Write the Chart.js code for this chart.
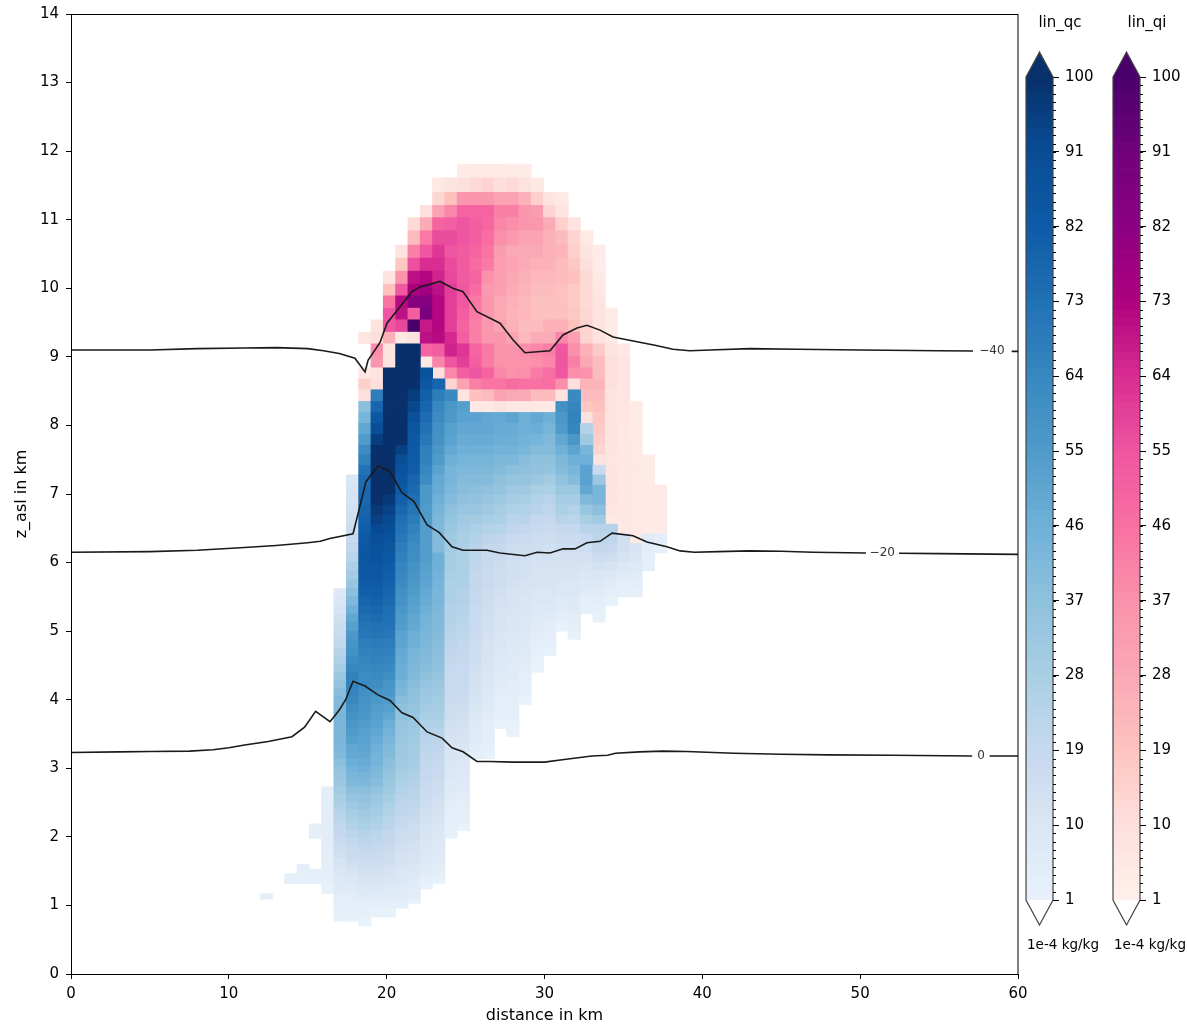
<!DOCTYPE html>
<html>
<head>
<meta charset="utf-8">
<title>lin_qc lin_qi</title>
<script src="https://cdn.jsdelivr.net/npm/chart.js@4"></script>
<style>
  html, body { margin: 0; padding: 0; background: #fff; width: 1187px; height: 1025px; overflow: hidden; }
  canvas { position: absolute; top: 0; }
</style>
</head>
<body>
<canvas id="main" width="1030" height="1025" style="left:0"></canvas>
<canvas id="cbQc" width="87" height="1025" style="left:1020px"></canvas>
<canvas id="cbQi" width="80" height="1025" style="left:1107px"></canvas>
<script>
// column centres in km
const colX = [12.37,13.15,13.93,14.71,15.49,16.27,17.05,17.84,18.62,19.40,20.18,20.96,21.74,22.52,23.30,24.08,24.86,25.65,26.43,27.21,27.99,28.77,29.55,30.33,31.11,31.89,32.67,33.46,34.24,35.02,35.80,36.58,37.36];

// model level edges in km, top to bottom
const zEdges = [11.81,11.61,11.40,11.21,11.03,10.84,10.63,10.44,10.25,10.06,9.89,9.71,9.54,9.36,9.19,9.00,8.84,8.68,8.52,8.35,8.19,8.03,7.87,7.71,7.57,7.42,7.28,7.13,6.99,6.84,6.69,6.56,6.42,6.28,6.14,6.01,5.88,5.75,5.62,5.50,5.37,5.25,5.13,5.00,4.88,4.75,4.64,4.51,4.40,4.28,4.16,4.05,3.93,3.81,3.70,3.58,3.46,3.35,3.24,3.14,3.03,2.94,2.84,2.73,2.62,2.51,2.40,2.29,2.19,2.09,1.98,1.88,1.79,1.69,1.60,1.53,1.46,1.39,1.32,1.24,1.17,1.09,1.03,0.96,0.89,0.83,0.77,0.70];

// lin_qc: [column, first level, values going down]
const qcColumns = [
  [0,80,3],
  [2,76,3,3],
  [3,74,3,3,3,3],
  [4,68,3,3],
  [4,75,3,3,3],
  [5,63,4,4,4,5,5,5,5,5,5,4,4,4,3,3,3,2,2],
  [6,38,8,10,12,14,16,18,20,23,26,29,33,36,39,41,42,43,43,43,43,42,41,38,36,34,33,30,28,26,24,22,20,19,17,15,14,12,11,10,9,8,7,6,5,4,3,3,2,2],
  [7,26,10,11,12,13,14,16,18,20,23,27,30,34,38,42,46,50,53,56,58,60,62,64,66,66,65,63,61,59,57,55,53,50,49,47,45,43,41,38,35,32,29,27,25,22,20,18,17,15,13,12,10,9,8,6,5,4,3,3,2,2],
  [8,19,38,44,50,55,62,66,72,75,76,77,78,79,81,83,85,85,84,83,82,80,78,76,74,72,70,68,66,65,63,62,62,60,59,58,57,55,53,52,51,50,48,46,44,42,38,36,34,31,29,27,24,22,20,18,16,15,13,12,11,9,8,7,5,4,3,3,2,1],
  [9,18,68,78,85,90,96,100,100,100,100,100,100,97,95,92,90,88,87,85,84,82,81,79,77,75,73,71,69,67,66,64,63,61,58,56,54,53,52,50,48,46,45,44,42,41,39,36,33,31,29,27,25,22,21,19,18,16,15,13,12,11,9,8,6,5,3,2,2],
  [10,16,100,100,100,100,100,100,100,100,100,100,100,100,97,94,92,90,88,86,84,82,81,79,78,76,74,73,72,70,68,66,65,63,61,58,57,55,53,50,47,45,43,41,40,38,37,35,33,31,29,27,25,23,22,20,19,17,16,15,13,12,11,10,8,7,6,5,4,2,2],
  [11,14,100,100,100,100,100,100,100,100,100,95,90,87,85,83,80,77,74,72,70,68,67,65,64,62,60,59,57,55,54,52,51,49,48,47,47,44,42,39,37,36,35,34,33,32,32,31,30,28,27,25,23,22,21,19,18,16,15,14,13,12,11,10,9,9,8,7,6,5,4],
  [12,14,100,100,100,100,96,93,89,86,84,83,82,81,78,76,74,71,68,66,64,62,61,59,58,56,55,53,52,50,49,47,46,44,43,42,41,39,37,36,35,34,33,32,31,30,30,29,28,26,25,23,22,21,20,18,16,15,14,13,12,11,10,9,8,7,6,5,4,2],
  [13,16,88,85,80,78,75,73,70,67,66,64,62,56,56,55,55,54,54,54,54,53,52,51,49,48,46,45,44,43,42,41,40,39,37,35,33,32,30,28,26,24,23,22,21,20,19,19,18,17,16,15,14,13,12,11,10,10,9,8,7,6,5,3,2],
  [14,17,78,68,64,62,60,59,57,55,52,49,48,46,44,42,41,40,40,46,46,45,44,43,43,42,41,41,40,39,38,37,36,35,33,31,30,29,28,26,24,22,21,20,19,18,17,16,15,14,13,12,11,10,9,8,8,7,6,5,4,3,2],
  [15,18,63,57,56,53,52,49,46,44,44,42,40,37,35,33,31,30,29,29,28,27,27,26,25,25,24,23,22,21,20,19,18,18,18,17,16,15,14,13,12,11,11,10,9,9,8,7,6,5,4,3,3,2],
  [16,19,53,52,50,48,46,44,42,40,39,37,34,31,29,28,27,27,27,27,26,25,25,24,23,22,21,20,19,19,18,18,18,17,16,15,14,13,12,11,10,10,9,8,8,7,6,5,4,3,3,1],
  [17,20,52,50,48,46,44,42,40,38,36,34,30,27,25,23,22,21,20,20,19,19,18,18,18,17,16,15,15,14,13,13,12,11,10,9,8,7,6,5,4],
  [18,20,50,50,48,46,44,42,40,37,34,31,28,25,22,20,18,18,17,17,16,15,15,14,14,13,12,12,11,11,10,9,8,8,7,6,5,4,4,3,2],
  [19,20,49,48,47,45,42,40,37,35,32,29,27,24,21,19,17,16,15,15,14,13,12,12,11,10,10,9,8,8,7,6,5,4,4,3,2],
  [20,20,51,48,47,45,42,38,35,31,29,26,23,21,18,16,15,14,14,13,12,12,11,10,10,9,8,8,7,6,6,5,5,4,3,3,2,1],
  [21,20,46,46,45,43,39,37,35,31,28,25,23,20,17,15,14,13,13,12,11,10,10,9,9,8,7,7,6,5,4,3,3,1],
  [22,20,49,47,44,40,37,36,33,28,25,23,20,18,16,15,13,12,12,11,10,9,8,7,6,5,4,3,2,1],
  [23,20,46,44,41,40,37,35,30,27,23,21,19,17,15,14,13,12,11,11,10,9,8,6,5,4,3,2],
  [24,19,60,57,55,50,46,42,40,36,33,29,27,23,19,17,15,13,12,11,10,9,7,6,4,2],
  [25,18,63,65,66,65,57,51,46,43,40,33,29,25,22,19,17,15,13,12,11,10,9,8,7,5,4,2],
  [26,21,25,31,43,46,52,52,50,41,34,28,23,18,15,13,11,9,8,6,4,3],
  [27,25,18,33,43,43,38,31,24,22,20,16,13,10,8,6,5,3,2],
  [28,31,24,21,19,15,12,9,6,4,2],
  [29,32,14,14,12,9,7,4,3],
  [30,33,11,10,8,6,5,3],
  [31,32,6,5,4,3],
  [32,32,4,3]
];

// lin_qi: [level, first column, values going right], null = no ice cell
const qiRows = [
  [0,16,4,5,5,5,4,4],
  [1,14,5,8,10,12,14,10,12,9,5],
  [2,14,13,20,35,35,35,30,30,25,15,8,5],
  [3,13,10,30,40,50,50,50,42,42,35,33,14,8],
  [4,12,12,27,50,52,55,52,49,40,38,35,35,27,15,8],
  [5,12,22,44,57,57,55,52,47,38,34,30,30,25,22,14,5],
  [6,11,8,42,55,62,55,53,50,45,33,28,28,28,25,24,15,8,3],
  [7,11,18,56,64,64,57,53,48,43,32,30,27,25,25,22,18,10,4],
  [8,10,8,37,70,72,66,58,53,50,37,32,28,25,23,23,22,20,12,5],
  [9,10,20,54,73,77,70,60,54,48,34,32,27,24,22,22,20,17,12,6],
  [10,10,45,71,84,85,72,60,54,44,35,28,25,23,20,20,20,17,12,8],
  [11,10,55,70,52,88,72,60,52,44,35,28,24,23,20,20,20,18,13,8,4],
  [12,9,8,55,58,100,68,72,60,50,42,35,30,25,22,22,25,25,20,14,8,4],
  [13,8,7,10,25,5,9,70,71,65,52,42,35,35,30,23,27,27,40,32,14,9,4],
  [14,9,38,8,null,null,50,52,66,62,50,43,37,36,38,40,42,55,38,25,17,9,6],
  [15,9,35,8,null,null,5,40,55,60,52,43,37,36,37,38,40,55,42,28,22,10,7],
  [16,8,6,8,null,null,null,null,10,40,52,55,50,40,37,38,43,47,55,38,37,22,10,7],
  [17,8,15,10,null,null,null,null,null,14,30,42,45,45,48,46,46,47,38,10,24,24,10,7],
  [18,8,10,null,null,null,null,null,null,null,8,20,22,30,28,28,22,22,9,null,22,22,9,7],
  [19,17,5,5,8,6,6,5,5,null,null,18,20,9,7,4],
  [20,26,10,18,8,7,4],
  [21,27,17,8,6,4],
  [22,27,15,8,6,4],
  [23,27,14,8,6,5],
  [24,27,8,7,6,5,4],
  [25,28,8,6,5,4],
  [26,28,8,6,5,4],
  [27,28,8,6,5,5,4],
  [28,28,8,6,5,5,4],
  [29,28,7,6,5,5,4],
  [30,28,5,6,5,5,4],
  [31,29,5,5,4,4],
  [32,30,5,4]
];

// temperature contours, null breaks the line for the label
const c40x = [0,5,8,11,13,15,16,17,17.99,18.63,18.82,19.58,20.02,20.85,21.6,22.11,23.38,24.2,24.84,25.72,27.18,28.0,28.76,30.35,31.17,32.06,32.69,33.52,34.34,35.86,37.0,38.14,39.2,40.5,43,46,50,55,57.15,57.2,59.6,60];
const c40z = [9.10,9.10,9.12,9.13,9.135,9.12,9.09,9.05,8.98,8.78,8.95,9.21,9.49,9.73,9.95,10.02,10.10,10.0,9.95,9.66,9.49,9.25,9.06,9.09,9.32,9.42,9.46,9.39,9.29,9.22,9.17,9.11,9.09,9.10,9.12,9.11,9.10,9.09,9.085,null,9.08,9.08];
const c20x = [0,5,8,11,13,15,15.8,16.4,17.87,18.69,19.45,20.21,20.97,21.73,22.56,23.32,24.14,24.84,26.36,27.18,28.76,29.53,30.35,31.17,31.93,32.69,33.52,34.28,35.61,36.49,37.76,38.59,39.5,41,43,45,47,50.37,50.4,52.46,55,60];
const c20z = [6.15,6.16,6.18,6.22,6.25,6.29,6.31,6.35,6.42,7.18,7.41,7.33,7.02,6.89,6.55,6.44,6.23,6.18,6.18,6.14,6.10,6.15,6.14,6.20,6.20,6.29,6.31,6.43,6.39,6.30,6.23,6.17,6.15,6.16,6.17,6.165,6.15,6.14,null,6.135,6.13,6.12];
const c0x = [0,3,5,7.5,9,10,11,12.5,14,14.8,15.5,16.41,17,17.4,17.87,18.63,19.45,20.21,20.97,21.67,22.56,23.51,24.14,24.84,25.72,26.55,28,30,31,33,34,34.5,36,37.5,39,42,45,48,52,57.1,57.15,58.2,60];
const c0z = [3.23,3.24,3.245,3.25,3.27,3.30,3.34,3.39,3.46,3.6,3.83,3.68,3.85,4.0,4.27,4.20,4.07,3.99,3.81,3.74,3.53,3.44,3.30,3.24,3.10,3.10,3.09,3.09,3.12,3.18,3.19,3.22,3.24,3.25,3.245,3.22,3.205,3.195,3.19,3.18,null,3.18,3.18];
const contourLabels = ['−40','−20','0'];
const contourLabelX = [58.35,51.4,57.66];
const contourLabelZ = [9.09,6.14,3.18];

// tick labels
const xTicks = [0,10,20,30,40,50,60];
const yTicks = [0,1,2,3,4,5,6,7,8,9,10,11,12,13,14];
const cbTicks = [1,10,19,28,37,46,55,64,73,82,91,100];
const cbLevels = [1,2,3,4,5,6,7,8,9,10,11,12,13,14,15,16,17,18,19,20,21,22,23,24,25,26,27,28,29,30,31,32,33,34,35,36,37,38,39,40,41,42,43,44,45,46,47,48,49,50,51,52,53,54,55,56,57,58,59,60,61,62,63,64,65,66,67,68,69,70,71,72,73,74,75,76,77,78,79,80,81,82,83,84,85,86,87,88,89,90,91,92,93,94,95,96,97,98,99];

// colour maps
const cmapValues = [1,10,19,28,37,46,55,64,73,82,91,100];
const qcColours = ['#e9f2fb','#d9e6f4','#c6d8ee','#a9cfe5','#8fc1dd','#6fb0d8','#4f9bca','#3787c0','#2171b5','#0f5ba7','#084d96','#08306b'];
const qiColours = ['#fff0ec','#fde0dd','#fdc4bf','#fba8b5','#fa92ac','#f970a2','#ef55a0','#d92d92','#ae017e','#8c0082','#70017a','#49006a'];

const FONT = '"DejaVu Sans"';

function hexToRgb(h) {
  return [1, 3, 5].map(i => parseInt(h.slice(i, i + 2), 16));
}

function colourFor(v, colours) {
  let i = 0;
  while (i < cmapValues.length - 2 && v > cmapValues[i + 1]) i++;
  const t = Math.min(1, Math.max(0, (v - cmapValues[i]) / (cmapValues[i + 1] - cmapValues[i])));
  const a = hexToRgb(colours[i]), b = hexToRgb(colours[i + 1]);
  return 'rgb(' + a.map((c, k) => Math.round(c + (b[k] - c) * t)).join(',') + ')';
}

// build the cell bars
const qcCells = [], qcCellColours = [];
qcColumns.forEach(col => {
  col.slice(2).forEach((v, k) => {
    const r = col[1] + k;
    qcCells.push({ x: colX[col[0]], y: [zEdges[r + 1], zEdges[r]] });
    qcCellColours.push(colourFor(v, qcColours));
  });
});
const qiCells = [], qiCellColours = [];
qiRows.forEach(row => {
  row.slice(2).forEach((v, k) => {
    if (v === null) return;
    const r = row[0];
    qiCells.push({ x: colX[row[1] + k], y: [zEdges[r + 1], zEdges[r]] });
    qiCellColours.push(colourFor(v, qiColours));
  });
});

function line(xs, zs, name) {
  return {
    type: 'line', label: name, order: 0,
    data: xs.map((x, i) => ({ x: x, y: zs[i] })),
    borderColor: '#1a1a1a', borderWidth: 1.6, pointRadius: 0, tension: 0, spanGaps: false, fill: false
  };
}

function cellBars(name, cells, colours) {
  return {
    type: 'bar', label: name, order: 1, data: cells,
    backgroundColor: colours, borderWidth: 0, barThickness: 12.5, grouped: false
  };
}

const framePlugin = {
  id: 'frame',
  afterDatasetsDraw(chart) {
    const { ctx, chartArea: a, scales } = chart;
    ctx.save();
    ctx.strokeStyle = '#000';
    ctx.lineWidth = 1;
    ctx.strokeRect(a.left + 0.5, a.top + 0.5, a.right - a.left - 1 + 0.5, a.bottom - a.top);
    ctx.fillStyle = '#333';
    ctx.font = '12px ' + FONT;
    ctx.textAlign = 'center';
    ctx.textBaseline = 'middle';
    contourLabels.forEach((t, i) => {
      ctx.fillText(t, scales.x.getPixelForValue(contourLabelX[i]), scales.y.getPixelForValue(contourLabelZ[i]));
    });
    ctx.restore();
  }
};

new Chart(document.getElementById('main'), {
  data: {
    datasets: [
      cellBars('lin_qc', qcCells, qcCellColours),
      cellBars('lin_qi', qiCells, qiCellColours),
      line(c40x, c40z, '-40'),
      line(c20x, c20z, '-20'),
      line(c0x, c0z, '0')
    ]
  },
  options: {
    responsive: false,
    animation: false,
    devicePixelRatio: 1,
    layout: { padding: { top: 14, right: 12, left: 0, bottom: 0 } },
    plugins: { legend: { display: false }, tooltip: { enabled: false } },
    scales: {
      x: {
        type: 'linear', min: 0, max: 60, offset: false,
        afterBuildTicks(s) { s.ticks = xTicks.map(v => ({ value: v })); },
        afterFit(s) { s.height = 51; s.paddingLeft = 0; s.paddingRight = 0; },
        grid: { drawOnChartArea: false, tickLength: 5, color: '#000', offset: false },
        border: { color: '#000' },
        ticks: { color: '#000', font: { family: FONT, size: 15 }, padding: 6, maxRotation: 0, autoSkip: false },
        title: { display: true, text: 'distance in km', color: '#000', font: { family: FONT, size: 16 }, padding: { top: 0, bottom: 0 } }
      },
      y: {
        type: 'linear', min: 0, max: 14,
        afterBuildTicks(s) { s.ticks = yTicks.map(v => ({ value: v })); },
        afterFit(s) { s.width = 71; s.paddingTop = 0; s.paddingBottom = 0; },
        grid: { drawOnChartArea: false, tickLength: 5, color: '#000' },
        border: { color: '#000' },
        ticks: { color: '#000', font: { family: FONT, size: 15 }, padding: 7, autoSkip: false },
        title: { display: true, text: 'z_asl in km', color: '#000', font: { family: FONT, size: 16 }, padding: { top: 12, bottom: 0 } }
      }
    }
  },
  plugins: [framePlugin]
});

// colour bar drawn as one floating bar per level
function colourBar(id, name, colours, canvasWidth, titleX, topColour) {
  const cbPlugin = {
    id: 'cbDecor',
    afterDatasetsDraw(chart) {
      const { ctx, chartArea: a, scales } = chart;
      const mid = (a.left + a.right) / 2;
      const top = scales.y.getPixelForValue(100), bot = scales.y.getPixelForValue(1);
      ctx.save();
      ctx.lineWidth = 1.2;
      ctx.strokeStyle = '#444';
      // extension triangles and outline
      ctx.beginPath();
      ctx.moveTo(a.left, top); ctx.lineTo(mid, top - 25); ctx.lineTo(a.right, top); ctx.closePath();
      ctx.fillStyle = topColour; ctx.fill();
      ctx.beginPath();
      ctx.moveTo(a.left, top); ctx.lineTo(mid, top - 25); ctx.lineTo(a.right, top);
      ctx.lineTo(a.right, bot); ctx.lineTo(mid, bot + 25); ctx.lineTo(a.left, bot); ctx.closePath();
      ctx.stroke();
      // minor ticks
      ctx.lineWidth = 1;
      ctx.strokeStyle = '#000';
      ctx.beginPath();
      cbLevels.forEach(v => {
        const py = Math.round(scales.y.getPixelForValue(v)) + 0.5;
        ctx.moveTo(a.right, py); ctx.lineTo(a.right + 3, py);
      });
      ctx.stroke();
      ctx.fillStyle = '#000';
      ctx.textAlign = 'center';
      ctx.textBaseline = 'middle';
      ctx.font = '15px ' + FONT;
      ctx.fillText(name, titleX, 23);
      ctx.textAlign = 'left';
      ctx.font = '13.5px ' + FONT;
      ctx.fillText('1e-4 kg/kg', a.left + 1, 945);
      ctx.restore();
    }
  };
  new Chart(document.getElementById(id), {
    type: 'bar',
    data: {
      datasets: [{
        label: name,
        data: cbLevels.map(v => ({ x: 0.5, y: [v, v + 1] })),
        backgroundColor: cbLevels.map(v => colourFor(v + 0.5, colours)),
        borderWidth: 0, barThickness: 27, grouped: false
      }]
    },
    options: {
      responsive: false,
      animation: false,
      devicePixelRatio: 1,
      layout: { padding: { top: 77, bottom: 125, left: 6, right: 0 } },
      plugins: { legend: { display: false }, tooltip: { enabled: false } },
      scales: {
        x: { type: 'linear', min: 0, max: 1, offset: false, display: false },
        y: {
          type: 'linear', position: 'right', min: 1, max: 100,
          afterBuildTicks(s) { s.ticks = cbTicks.map(v => ({ value: v })); },
          afterFit(s) { s.width = canvasWidth - 33; },
          grid: { drawOnChartArea: false, tickLength: 6, color: '#000' },
          border: { display: false },
          ticks: { color: '#000', font: { family: FONT, size: 15 }, padding: 6, autoSkip: false }
        }
      }
    },
    plugins: [cbPlugin]
  });
}

colourBar('cbQc', 'lin_qc', qcColours, 87, 40, '#08306b');
colourBar('cbQi', 'lin_qi', qiColours, 80, 40, '#49006a');
</script>
</body>
</html>
